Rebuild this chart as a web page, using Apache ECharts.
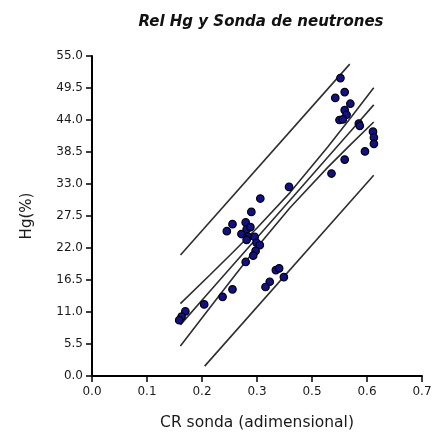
<!DOCTYPE html>
<html><head><meta charset="utf-8">
<script src="https://cdn.jsdelivr.net/npm/echarts@6/dist/echarts.min.js"></script>
<style>html,body{margin:0;padding:0;background:#fff}#c{width:444px;height:434px}</style>
</head><body><div id="c"></div>
<script>
// Observed points: CR sonda (adimensional) vs Hg (%)
const crSonda = [0.527,0.536,0.516,0.548,0.536,0.540,0.525,0.532,0.566,0.568,0.596,0.598,0.598,0.579,0.536,0.508,0.418,0.357,
  0.338,0.298,0.286,0.326,0.328,0.336,0.317,0.331,0.345,0.328,0.349,0.356,0.347,0.342,0.326,
  0.390,0.397,0.407,0.377,0.368,
  0.298,0.277,0.238,0.198,0.190,0.185];
const hgPct = [51.2,48.8,47.8,46.8,45.7,44.9,44.0,44.1,43.4,43.0,42.0,41.0,39.9,38.6,37.2,34.8,32.5,30.5,
  28.2,26.1,24.9,26.4,25.2,25.6,24.4,23.9,23.9,23.4,22.9,22.5,21.5,20.7,19.6,
  18.2,18.5,17.0,16.2,15.3,
  14.9,13.6,12.3,11.1,10.2,9.6];

// Fitted line and bands
const bandX      = [0.1875, 0.25, 0.30, 0.35, 0.42, 0.50, 0.55, 0.5976];
const regY       = [8.79, 14.55, 19.16, 23.77, 30.22, 37.60, 42.21, 46.60];
const confUpperY = [12.44, 17.36, 21.35, 25.43, 31.52, 39.35, 44.52, 49.55];
const confLowerY = [5.14, 11.74, 16.97, 22.11, 28.92, 35.85, 39.90, 43.65];
const predUpper  = [[0.1877, 20.8], [0.5467, 53.6]];
const predLower  = [[0.239, 1.7], [0.5976, 34.5]];

const xTickLabels = ['0.0','0.1','0.2','0.3','0.5','0.6','0.7'];
const yTickLabels = ['0.0','5.5','11.0','16.5','22.0','27.5','33.0','38.5','44.0','49.5','55.0'];

const X_MAX = 0.7, X_STEP = 0.7 / 6, Y_MAX = 55, Y_STEP = 5.5;
const FONT = 'DejaVu Sans';
const TXT = '#1a1a1a';

const points = crSonda.map((x, i) => [x, hgPct[i]]);
const zip = ys => bandX.map((x, i) => [x, ys[i]]);

const lineSeries = (data) => ({
  type: 'line', data: data, showSymbol: false, symbol: 'none', silent: true,
  lineStyle: { color: '#2e2e2e', width: 1.6 }, z: 2, animation: false
});

const chart = echarts.init(document.getElementById('c'), null, { renderer: 'canvas' });
chart.setOption({
  animation: false,
  backgroundColor: '#fff',
  title: {
    text: 'Rel Hg y Sonda de neutrones',
    left: 256, top: 10, textAlign: 'center',
    textStyle: { fontFamily: FONT, fontSize: 15, fontWeight: 'bold', fontStyle: 'italic', color: '#111' }
  },
  grid: { left: 92, right: 22, top: 56, bottom: 58, containLabel: false, outerBoundsMode: 'none' },
  xAxis: {
    type: 'value', min: 0, max: X_MAX, interval: X_STEP,
    name: 'CR sonda (adimensional)', nameLocation: 'middle', nameGap: 39,
    nameTextStyle: { fontFamily: FONT, fontSize: 15.5, color: TXT },
    axisLine: { show: true, onZero: false, lineStyle: { color: '#000', width: 2 } },
    axisTick: { show: true, length: 6, lineStyle: { color: '#000', width: 1.5 } },
    axisLabel: { margin: 10, fontFamily: FONT, fontSize: 12, color: TXT,
      formatter: v => xTickLabels[Math.round(v / X_STEP)] },
    splitLine: { show: false }
  },
  yAxis: {
    type: 'value', min: 0, max: Y_MAX, interval: Y_STEP,
    name: 'Hg(%)', nameLocation: 'middle', nameGap: 57, nameRotate: 90,
    nameTextStyle: { fontFamily: FONT, fontSize: 15, color: TXT },
    axisLine: { show: true, onZero: false, lineStyle: { color: '#000', width: 2 } },
    axisTick: { show: true, length: 6, lineStyle: { color: '#000', width: 1.5 } },
    axisLabel: { margin: 9, fontFamily: FONT, fontSize: 12, color: TXT,
      formatter: v => yTickLabels[Math.round(v / Y_STEP)] },
    splitLine: { show: false }
  },
  series: [
    lineSeries(predUpper),
    lineSeries(zip(confUpperY)),
    lineSeries(zip(regY)),
    lineSeries(zip(confLowerY)),
    lineSeries(predLower),
    {
      type: 'scatter', data: points, symbol: 'circle', symbolSize: 7.5, z: 5,
      itemStyle: { color: '#10108a', borderColor: '#000', borderWidth: 1.2, opacity: 1 }
    }
  ]
});
</script>
</body></html>
